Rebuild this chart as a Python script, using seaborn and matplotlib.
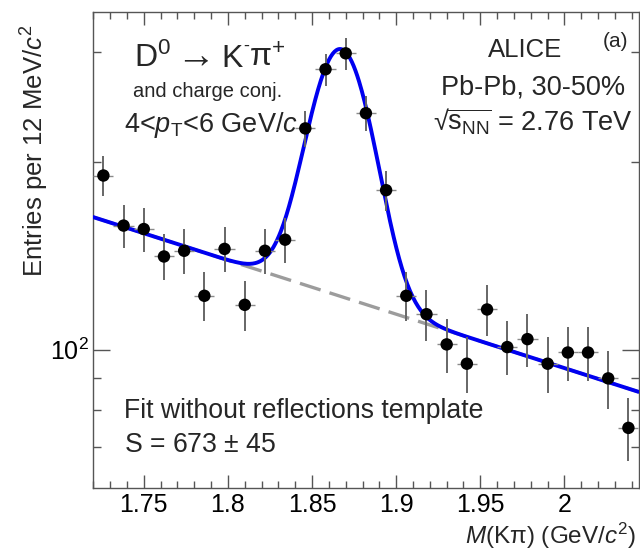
import numpy as np
import pandas as pd
import matplotlib
matplotlib.use("Agg")
import matplotlib.pyplot as plt
import seaborn as sns
from matplotlib.ticker import FixedLocator, FixedFormatter, NullFormatter, MultipleLocator

# ---- data ----
mass = [1.726, 1.738, 1.750, 1.762, 1.774, 1.786, 1.798, 1.810, 1.822,
        1.834, 1.846, 1.858, 1.870, 1.882, 1.894, 1.906, 1.918, 1.930,
        1.942, 1.954, 1.966, 1.978, 1.990, 2.002, 2.014, 2.026, 2.038]
counts = [190, 158, 156, 141, 144, 122, 145, 118, 144,
          150, 226, 281, 298, 239, 180, 122, 114, 102,
          95, 116, 101, 104, 95, 99, 99, 90, 75]
count_err = [13.8, 12.6, 12.5, 11.9, 12.0, 11.0, 12.0, 10.9, 12.0,
             12.2, 15.0, 16.8, 17.3, 15.5, 13.4, 11.0, 10.7, 10.1,
             9.7, 10.8, 10.0, 10.2, 9.7, 9.9, 9.9, 9.5, 8.7]
half_bin = 0.006

# fit parameters (exponential background + gaussian signal)
bkg_norm = 163.0
bkg_slope = 1.986
bkg_ref = 1.72
sig_amp = 181.0
sig_mean = 1.867
sig_sigma = 0.0177

x_range = (1.72, 2.044)
y_range = (60.1, 347.0)
x_ticks = [1.75, 1.8, 1.85, 1.9, 1.95, 2.0]
x_ticklabels = ["1.75", "1.8", "1.85", "1.9", "1.95", "2"]

sns.set_theme(style="ticks")
plt.rcParams['font.family'] = ['Liberation Sans', 'DejaVu Sans']
plt.rcParams['mathtext.fontset'] = 'custom'
plt.rcParams['mathtext.rm'] = 'Liberation Sans'
plt.rcParams['mathtext.it'] = 'Liberation Sans:italic'
plt.rcParams['mathtext.sf'] = 'Liberation Sans'

W, H = 640, 550
fig = plt.figure(figsize=(W / 100, H / 100), dpi=100)
L, R, T, B = 93.3, 638.5, 12.0, 488.0
ax = fig.add_axes([L / W, 1 - B / H, (R - L) / W, (B - T) / H])

df = pd.DataFrame({"mass": mass, "counts": counts, "err": count_err})
xf = np.linspace(x_range[0], x_range[1], 600)
bkg = bkg_norm * np.exp(-bkg_slope * (xf - bkg_ref))
tot = bkg + sig_amp * np.exp(-0.5 * ((xf - sig_mean) / sig_sigma) ** 2)
fit_df = pd.DataFrame({"mass": xf, "bkg": bkg, "tot": tot})

sns.lineplot(data=fit_df, x="mass", y="bkg", ax=ax, color="#9c9c9c", lw=2.4,
             zorder=2)
ax.lines[-1].set_dashes([6.5, 2.8])
sns.lineplot(data=fit_df, x="mass", y="tot", ax=ax, color="#0000f0", lw=2.8,
             zorder=3)

ax.errorbar(df["mass"], df["counts"], yerr=df["err"], fmt="none",
            ecolor="#666666", elinewidth=1.4, capsize=0, zorder=4)
ax.errorbar(df["mass"], df["counts"], xerr=half_bin, fmt="none",
            ecolor="#8a8a8a", elinewidth=1.0, capsize=0, zorder=4)
sns.scatterplot(data=df, x="mass", y="counts", ax=ax, color="black", s=80,
                edgecolor="none", zorder=5)

ax.set_yscale("log")
ax.set_xlim(*x_range)
ax.set_ylim(*y_range)
ax.yaxis.set_major_locator(FixedLocator([100]))
ax.yaxis.set_major_formatter(FixedFormatter([r"10$^{2}$"]))
ax.yaxis.set_minor_locator(FixedLocator([70, 80, 90, 200, 300]))
ax.yaxis.set_minor_formatter(NullFormatter())
ax.xaxis.set_major_locator(FixedLocator(x_ticks))
ax.xaxis.set_major_formatter(FixedFormatter(x_ticklabels))
ax.xaxis.set_minor_locator(MultipleLocator(0.01))

for s in ax.spines.values():
    s.set_color("#555555")
    s.set_linewidth(1.0)
ax.tick_params(axis="both", which="both", direction="in", top=True, right=True,
               color="#555555", width=1.0, labelsize=18, labelcolor="black")
ax.tick_params(axis="x", which="major", length=9.5, pad=3.5)
ax.tick_params(axis="x", which="minor", length=4.8)
ax.tick_params(axis="y", which="major", length=12, pad=3)
ax.tick_params(axis="y", which="minor", length=5.8)
ax.set_xlabel("")
ax.set_ylabel("")

def ftxt(x, y, s, **kw):
    kw.setdefault("va", "baseline")
    fig.text(x / W, 1 - y / H, s, **kw)

# axis titles
fig.text(19 / W, 1 - 24 / H, r"Entries per 12 MeV/$\it{c}^{2}$", rotation=90,
         ha="left", va="top", fontsize=18.5)
ftxt(636, 544, r"$\it{M}$(K$\mathrm{\pi}$) (GeV/$\it{c}^{2}$)", ha="right", fontsize=17.5)

# decay channel (pieces so the tiny superscript minus matches)
ftxt(134, 67, r"D$^{0}$", ha="left", fontsize=23)
ftxt(190, 56, r"$\rightarrow$", ha="center", va="center", fontsize=28)
ftxt(221, 67, "K", ha="left", fontsize=23)
ftxt(243, 51, "-", ha="left", fontsize=13)
ftxt(249, 67, r"π$^{+}$", ha="left", fontsize=23)

ftxt(133, 97, "and charge conj.", ha="left", fontsize=14.5)
ftxt(124, 132, r"4<$\it{p}_{\rm T}$<6 GeV/$\it{c}$", ha="left", fontsize=19.5)
ftxt(525, 57, "ALICE", ha="center", fontsize=18.5)
ftxt(628, 47, "(a)", ha="right", fontsize=15)
ftxt(625, 95, "Pb-Pb, 30-50%", ha="right", fontsize=19.5)
ftxt(633, 131, r"√$\overline{\mathrm{s}_{\rm NN}}$ = 2.76 TeV", ha="right", fontsize=19.5)
ftxt(124, 418, "Fit without reflections template", ha="left", fontsize=19.2)
ftxt(124, 452, r"S = 673 $\pm$ 45", ha="left", fontsize=19.2)

fig.savefig("out.png", dpi=100)
